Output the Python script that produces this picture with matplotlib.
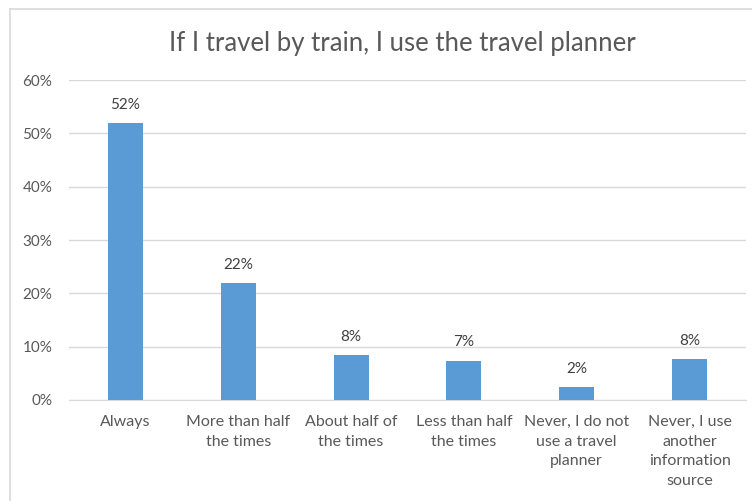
import matplotlib
matplotlib.use("Agg")
import matplotlib.pyplot as plt
from matplotlib.lines import Line2D
from matplotlib.ticker import FuncFormatter

categories = [
    "Always",
    "More than half\nthe times",
    "About half of\nthe times",
    "Less than half\nthe times",
    "Never, I do not\nuse a travel\nplanner",
    "Never, I use\nanother\ninformation\nsource",
]
shares = [52.0, 22.0, 8.4, 7.4, 2.4, 7.6]
y_ticks = [0, 10, 20, 30, 40, 50, 60]
title = "If I travel by train, I use the travel planner"

plt.rcParams['font.family'] = ['Lato', 'DejaVu Sans']
text_color = "#595959"
bar_color = "#5B9BD5"
grid_color = "#D9D9D9"

fig = plt.figure(figsize=(7.52, 5.01), dpi=100)
ax = fig.add_axes([0.0918, 0.2016, 0.9002, 0.6387])

x = list(range(len(categories)))
bars = ax.bar(x, shares, width=0.31, color=bar_color, zorder=3)

for xi, v in zip(x, shares):
    ax.annotate(f"{round(v):d}%", (xi, v), xytext=(0, 8), textcoords="offset points",
                ha="center", va="bottom", fontsize=11, color="#404040")

ax.set_xlim(-0.5, len(categories) - 0.5)
ax.set_ylim(0, 60)
ax.set_yticks(y_ticks)
ax.yaxis.set_major_formatter(FuncFormatter(lambda v, p: f"{v:.0f}%"))
ax.grid(axis="y", color=grid_color, linewidth=1, zorder=0)
ax.set_xticks(x)
ax.set_xticklabels(categories, fontsize=11.5, color=text_color, linespacing=1.5, va="top")
ax.tick_params(axis="y", labelsize=11)
ax.tick_params(axis="both", length=0, labelcolor=text_color)
ax.tick_params(axis="x", pad=11)
ax.tick_params(axis="y", pad=12)
for s in ["top", "right", "left"]:
    ax.spines[s].set_visible(False)
ax.spines["bottom"].set_color(grid_color)

fig.text(0.535, 0.914, title, ha="center", va="center", fontsize=18.5, color=text_color)

# light chart-area frame along top and left edges
fig.add_artist(Line2D([10 / 752, 1.0], [1 - 9 / 501, 1 - 9 / 501], color=grid_color, lw=1.2,
                      transform=fig.transFigure))
fig.add_artist(Line2D([10 / 752, 10 / 752], [0.0, 1 - 9 / 501], color=grid_color, lw=1.2,
                      transform=fig.transFigure))

fig.savefig("out.png", dpi=100)
